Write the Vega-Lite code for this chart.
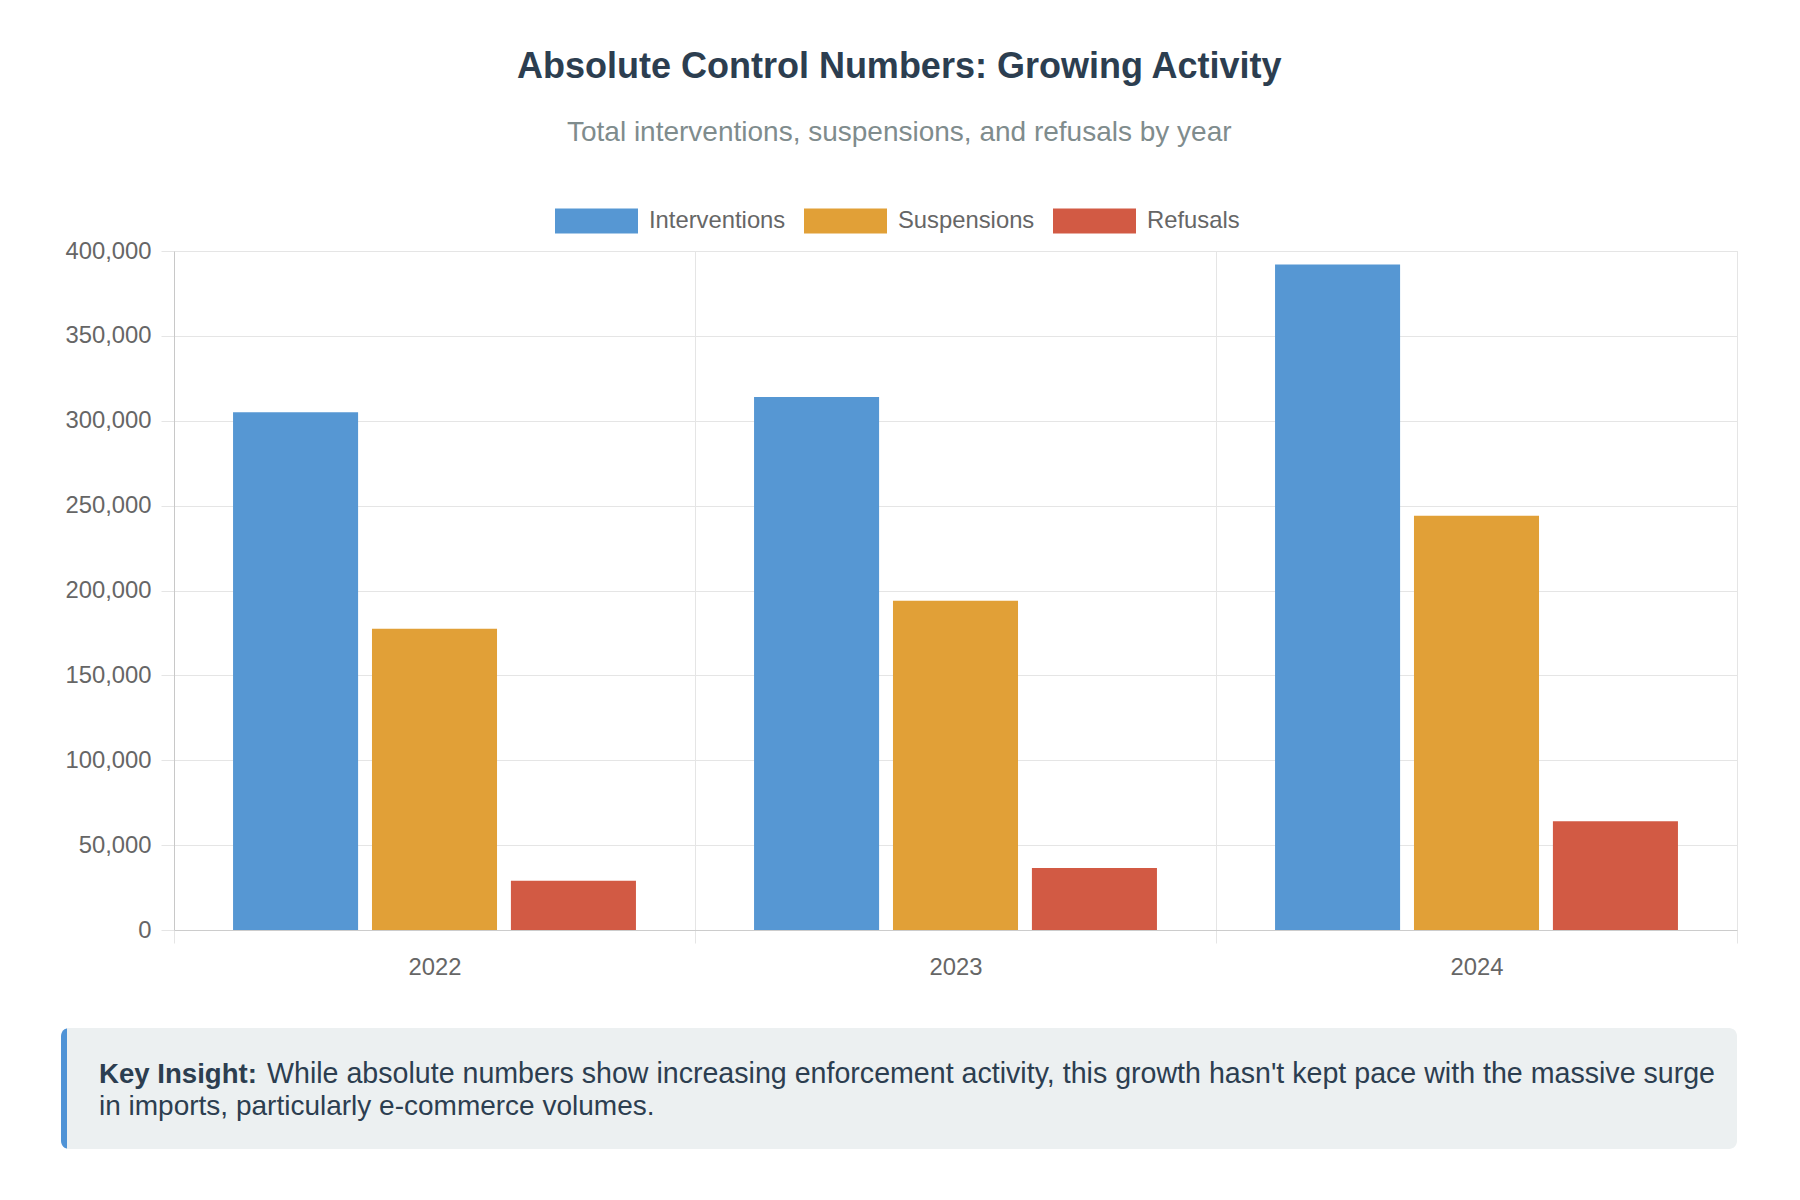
{
  "$schema": "https://vega.github.io/schema/vega-lite/v6.json",
  "background": "white",
  "padding": {"left": 60, "right": 64, "top": 48, "bottom": 50},
  "title": {
    "text": "Absolute Control Numbers: Growing Activity",
    "subtitle": "Total interventions, suspensions, and refusals by year",
    "anchor": "middle",
    "frame": "bounds",
    "font": "Liberation Sans",
    "fontSize": 36,
    "fontWeight": "bold",
    "color": "#2c3e50",
    "subtitleFont": "Liberation Sans",
    "subtitleFontSize": 28,
    "subtitleColor": "#7f8c8d",
    "subtitlePadding": 33.5,
    "offset": 31
  },
  "spacing": 48,
  "vconcat": [
    {
      "width": 1563,
      "height": 679,
      "view": {"stroke": "#e5e5e5", "strokeWidth": 1},
      "data": {
        "values": [
          {"year": "2022", "metric": "Interventions", "value": 305000},
          {"year": "2022", "metric": "Suspensions", "value": 177500},
          {"year": "2022", "metric": "Refusals", "value": 29000},
          {"year": "2023", "metric": "Interventions", "value": 314000},
          {"year": "2023", "metric": "Suspensions", "value": 194000},
          {"year": "2023", "metric": "Refusals", "value": 36500},
          {"year": "2024", "metric": "Interventions", "value": 392000},
          {"year": "2024", "metric": "Suspensions", "value": 244000},
          {"year": "2024", "metric": "Refusals", "value": 64000}
        ]
      },
      "mark": {"type": "bar", "strokeWidth": 0},
      "encoding": {
        "x": {
          "field": "year",
          "type": "ordinal",
          "scale": {"paddingInner": 0, "paddingOuter": 0},
          "axis": {
            "title": null,
            "labelAngle": 0,
            "tickBand": "extent",
            "tickSize": 13,
            "tickColor": "#e5e5e5",
            "grid": true,
            "gridColor": "#e5e5e5",
            "domainColor": "#cccccc",
            "labelPadding": 12,
            "labelFontSize": 23.8,
            "labelColor": "#666666",
            "labelFont": "Liberation Sans"
          }
        },
        "xOffset": {
          "field": "metric",
          "type": "nominal",
          "sort": ["Interventions", "Suspensions", "Refusals"],
          "scale": {"paddingInner": 0.1, "paddingOuter": 0.425}
        },
        "y": {
          "field": "value",
          "type": "quantitative",
          "scale": {"domain": [0, 400000], "nice": false},
          "axis": {
            "title": null,
            "values": [0, 50000, 100000, 150000, 200000, 250000, 300000, 350000, 400000],
            "format": ",d",
            "tickSize": 13,
            "tickColor": "#e5e5e5",
            "gridColor": "#e5e5e5",
            "domainColor": "#c8c8c8",
            "labelPadding": 10,
            "labelFontSize": 23.8,
            "labelColor": "#666666",
            "labelFont": "Liberation Sans",
            "minExtent": 113,
            "maxExtent": 113
          }
        },
        "color": {
          "field": "metric",
          "type": "nominal",
          "sort": ["Interventions", "Suspensions", "Refusals"],
          "scale": {
            "domain": ["Interventions", "Suspensions", "Refusals"],
            "range": ["#5697d3", "#e1a037", "#d25a44"]
          },
          "legend": {
            "title": null,
            "orient": "none",
            "legendX": 381,
            "legendY": -71.6,
            "direction": "horizontal",
            "symbolType": "M-1,-0.3012H1V0.3012H-1Z",
            "symbolSize": 6889,
            "symbolStrokeWidth": 0,
            "symbolOpacity": 1,
            "labelFontSize": 23.8,
            "labelColor": "#666666",
            "labelFont": "Liberation Sans",
            "labelOffset": 11,
            "columnPadding": 18,
            "padding": 0
          }
        }
      }
    },
    {
      "width": 1563,
      "height": 121,
      "view": {"fill": null, "stroke": null},
      "data": {
        "values": [
          {
            "label": "Key Insight:",
            "line1": "While absolute numbers show increasing enforcement activity, this growth hasn't kept pace with the massive surge",
            "line2": "in imports, particularly e-commerce volumes."
          }
        ]
      },
      "layer": [
        {
          "mark": {"type": "rect", "color": "#4f93d6", "cornerRadius": 8},
          "encoding": {"x": {"value": -113}, "x2": {"value": -97}, "y": {"value": 0}, "y2": {"value": "height"}}
        },
        {
          "mark": {"type": "rect", "color": "#ecf0f1", "cornerRadiusTopRight": 8, "cornerRadiusBottomRight": 8},
          "encoding": {"x": {"value": -107}, "x2": {"value": "width"}, "y": {"value": 0}, "y2": {"value": "height"}}
        },
        {
          "mark": {"type": "text", "align": "left", "baseline": "alphabetic", "font": "Liberation Sans", "fontWeight": "bold", "fontSize": 27.6, "color": "#2c3e50"},
          "encoding": {"text": {"field": "label"}, "x": {"value": -75}, "y": {"value": 55}}
        },
        {
          "mark": {"type": "text", "align": "left", "baseline": "alphabetic", "font": "Liberation Sans", "fontSize": 28.6, "color": "#2c3e50"},
          "encoding": {"text": {"field": "line1"}, "x": {"value": 93}, "y": {"value": 55}}
        },
        {
          "mark": {"type": "text", "align": "left", "baseline": "alphabetic", "font": "Liberation Sans", "fontSize": 28, "color": "#2c3e50"},
          "encoding": {"text": {"field": "line2"}, "x": {"value": -75}, "y": {"value": 87}}
        }
      ]
    }
  ],
  "config": {
    "font": "Liberation Sans"
  }
}
